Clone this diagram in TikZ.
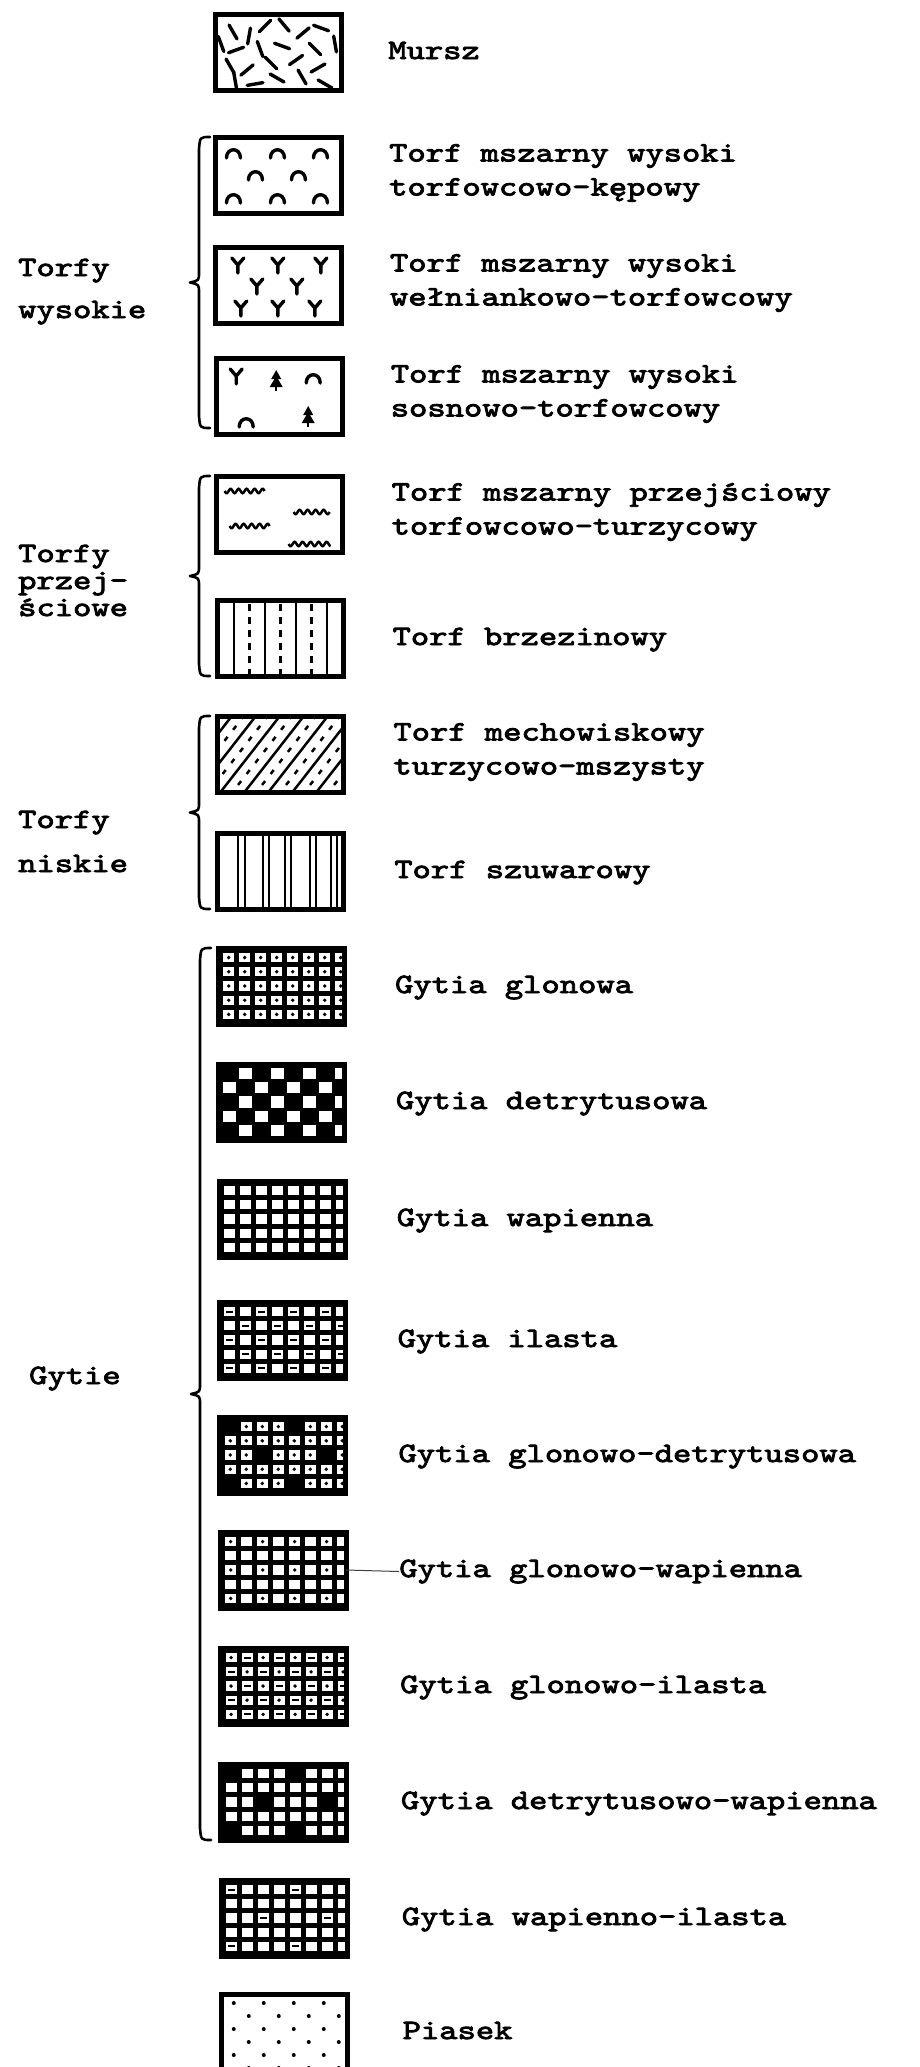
\documentclass[tikz,border=0pt]{standalone}
\usepackage{fontspec}
\newfontfamily\twf{lmmono10-regular.otf}[FakeStretch=1.245, FakeBold=3]
\tikzset{
  legbox/.style={draw, line width=5pt, minimum width=126pt, inner sep=0pt, outer sep=0pt},
  lab/.style={font={\twf\fontsize{28}{34}\selectfont}, anchor=base west, inner sep=0pt},
  labtwo/.style={font={\twf\fontsize{28}{34}\selectfont}, anchor=west, align=left, inner sep=0pt},
  grp/.style={font={\twf\fontsize{28}{34}\selectfont}, anchor=base west, inner sep=0pt},
  brace/.style={line width=2.6pt, line cap=round, line join=round},
  sym/.style={line width=3.4pt, line cap=round, line join=round},
  thinl/.style={line width=2.5pt},
}
% symbols (local coordinates, y downwards)
\newcommand\arcsym[2]{\draw[sym] (#1-7,#2+5) .. controls (#1-7,#2-6) and (#1+7,#2-6) .. (#1+7,#2+5);}
\newcommand\ysym[2]{\draw[sym] (#1-6,#2-7) -- (#1,#2) -- (#1+6,#2-7) (#1,#2) -- (#1,#2+8);}
\newcommand\treesym[2]{\fill (#1,#2-12) -- (#1-5,#2-3) -- (#1+5,#2-3) -- cycle;
  \fill (#1,#2-6) -- (#1-6.5,#2+5) -- (#1+6.5,#2+5) -- cycle;
  \draw[line width=2.5pt] (#1,#2+3) -- (#1,#2+9);}
\newcommand\wavesym[3]{\draw[line width=2.5pt] plot[domain=0:#3, samples=50, smooth] ({#1+\x},{#2+2.2*sin(\x*45)});}
% grid cells
\newcommand\celldot{\fill (\cx,\cy) circle (1.9pt);}
\newcommand\celldash{\draw[line width=2pt] (\cx-3.5,\cy) -- (\cx+3.5,\cy);}
\newcommand\cellblack{\fill (\cx-5.6,\cy-\hh-0.1) rectangle (\cx+5.6,\cy+\hh+0.1);}
\newcommand\detq{\pgfmathtruncatemacro\isdet{and(mod(\ri,2)==1, mod(\cj-\ri+8,4)==0)}}
\newcommand\gridpat[1]{%
  \fill (0,0) rectangle (126,\bh);
  \foreach \ri in {1,...,5}{\foreach \cj in {1,...,8}{%
    \pgfmathsetmacro\cx{10.5+16*(\cj-1)}%
    \pgfmathsetmacro\cy{5+\rp*(\ri-1)+(\rp-5)/2}%
    \pgfmathsetmacro\hh{(\rp-5)/2}%
    \fill[white] (\cx-5.5,\cy-\hh) rectangle (\cx+5.5,\cy+\hh);%
    #1%
  }}%
}
% one legend item: #1 id, #2 top, #3 height, #4 pattern, #5 label, #6 style, #7 y offset of label
\newcommand\legitem[7]{%
  \pgfmathsetmacro\bl{215+0.003387*#2}%
  \pgfmathsetmacro\tx{388+0.00726*#2}%
  \def\bh{#3}%
  \pgfmathsetmacro\rp{(#3-5)/5}%
  \begin{scope}[shift={(\bl,#2)}]
    \clip (0,0) rectangle (126,#3);
    #4
  \end{scope}
  \node[legbox, minimum height=#3pt] (b#1) at (\bl+63,#2+#3/2) {};
  \node[#6] (t#1) at (\tx,#2+#3/2+#7) {#5};
}
\newcommand\bracepath[3]{%
  \pgfmathsetmacro\bm{(#2+#3)/2}%
  \draw[brace] (#1+12,#2) .. controls (#1+2,#2) .. (#1+1,#2+12) -- (#1+1,\bm-10)
    .. controls (#1+1,\bm-2) .. (#1-8,\bm) .. controls (#1+1,\bm+2) .. (#1+1,\bm+10)
    -- (#1+1,#3-12) .. controls (#1+2,#3) .. (#1+12,#3);
}
\begin{document}
\begin{tikzpicture}[x=1pt,y=-1pt]
\fill[white] (0,0) rectangle (920,2067);
\useasboundingbox (0,0) rectangle (920,2067);

\legitem{1}{14}{76}{%
  \foreach \px/\py/\pa in {18/18/60, 34/22/100, 50/12/-45, 69/11/50, 88/19/-40, 106/14/20,
     21/36/-20, 45/35/70, 67/32/20, 100/35/45, 15/52/60, 32/56/-40, 56/49/45, 81/46/-35,
     103/54/-30, 20/66/80, 62/64/30, 87/63/60, 40/70/-10, 110/70/30, 120/30/80, 6/30/70}
     \draw[sym] (\px,\py) ++(\pa:8) -- ++(\pa+180:16);
}{Mursz}{lab}{7}

\legitem{2}{137}{76}{%
  \arcsym{18}{16}\arcsym{62}{16}\arcsym{105}{16}
  \arcsym{40}{38}\arcsym{83}{38}
  \arcsym{18}{61}\arcsym{62}{61}\arcsym{105}{61}
}{Torf mszarny wysoki\\torfowcowo-kępowy}{labtwo}{-2}

\legitem{3}{247}{76}{%
  \ysym{22}{18}\ysym{62}{18}\ysym{105}{18}
  \ysym{41}{39}\ysym{81}{39}
  \ysym{25}{61}\ysym{62}{61}\ysym{99}{61}
}{Torf mszarny wysoki\\wełniankowo-torfowcowy}{labtwo}{-2}

\legitem{4}{358}{76}{%
  \ysym{20}{18}\treesym{60}{24}\arcsym{97}{20}
  \arcsym{30}{64}\treesym{92}{60}
}{Torf mszarny wysoki\\sosnowo-torfowcowy}{labtwo}{-2}

\legitem{5}{476}{76}{%
  \wavesym{8}{15}{40}\wavesym{77}{36}{36}\wavesym{13}{50}{40}\wavesym{72}{68}{42}
}{Torf mszarny przejściowy\\torfowcowo-turzycowy}{labtwo}{-2}

\legitem{6}{600}{76}{%
  \foreach \xx in {17,48,79,110} \draw[thinl] (\xx,0) -- (\xx,80);
  \foreach \xx in {32.5,63.5,94.5} \draw[thinl, dash pattern=on 7pt off 6pt] (\xx,4) -- (\xx,80);
}{Torf brzezinowy}{lab}{7}

\legitem{7}{716}{76}{%
  \foreach \xx in {-72,-48,...,132} \draw[thinl] (\xx,80) -- (\xx+64,-2);
  \foreach \xx in {-60,-36,...,144} \draw[thinl, dash pattern=on 5pt off 9pt] (\xx,80) -- (\xx+64,-2);
}{Torf mechowiskowy\\turzycowo-mszysty}{labtwo}{-2}

\legitem{8}{833}{76}{%
  \foreach \xx in {20,27,45,51,67,73,92,98,113,119} \draw[thinl] (\xx,0) -- (\xx,80);
}{Torf szuwarowy}{lab}{7}

\legitem{9}{948}{76}{\gridpat{\celldot}}{Gytia glonowa}{lab}{7}

\legitem{10}{1064}{76}{%
  \gridpat{\pgfmathtruncatemacro\w{mod(\ri+\cj,2)}%
    \ifnum\w=0 \cellblack\else\fill[white] (\cx-6.5,\cy-\hh-1) rectangle (\cx+6.5,\cy+\hh+1);\fi}
}{Gytia detrytusowa}{lab}{7}

\legitem{11}{1181}{76}{\gridpat{}}{Gytia wapienna}{lab}{7}

\legitem{12}{1302}{76}{%
  \gridpat{\pgfmathtruncatemacro\w{mod(\ri+\cj,2)}\ifnum\w=0 \celldash\fi}
}{Gytia ilasta}{lab}{7}

\legitem{13}{1417}{76}{%
  \gridpat{\celldot\detq\ifnum\isdet=1 \cellblack\fi}
}{Gytia glonowo-detrytusowa}{lab}{7}

\legitem{14}{1532}{76}{%
  \gridpat{\pgfmathtruncatemacro\w{and(mod(\ri,2)==1, mod(\cj,2)==1)}\ifnum\w=1 \celldot\fi}
}{Gytia glonowo-wapienna}{lab}{7}

\legitem{15}{1648}{76}{%
  \gridpat{\pgfmathtruncatemacro\w{mod(\ri+\cj,2)}\ifnum\w=0 \celldot\else\celldash\fi}
}{Gytia glonowo-ilasta}{lab}{7}

\legitem{16}{1764}{76}{%
  \gridpat{\detq\ifnum\isdet=1 \cellblack\fi}
}{Gytia detrytusowo-wapienna}{lab}{7}

\legitem{17}{1880}{76}{%
  \gridpat{\detq\ifnum\isdet=1 \celldash\fi}
}{Gytia wapienno-ilasta}{lab}{7}

\legitem{18}{1994}{76}{%
  \foreach \ry in {0,...,5}{
    \pgfmathsetmacro\off{mod(\ry,2)*15}
    \foreach \rx in {0,...,4}
      \fill (12+\off+30*\rx, 9+13*\ry) circle (2pt);
  }
}{Piasek}{lab}{7}

\draw[line width=1pt, black!75] (b14.east) -- (t14.west);

% group braces
\bracepath{198}{137}{428}
\bracepath{198}{476}{676}
\bracepath{198}{716}{909}
\bracepath{199}{948}{1840}

% group labels
\node[grp] (g1a) at (18,276) {Torfy};
\node[grp] (g1b) at (18,318) {wysokie};
\node[grp] (g2a) at (18,562) {Torfy};
\node[grp] (g2b) at (18,589) {przej-};
\node[grp] (g2c) at (18,616) {ściowe};
\node[grp] (g3a) at (18,828) {Torfy};
\node[grp] (g3b) at (18,872) {niskie};
\node[grp] (g4) at (29,1384) {Gytie};
\end{tikzpicture}
\end{document}
